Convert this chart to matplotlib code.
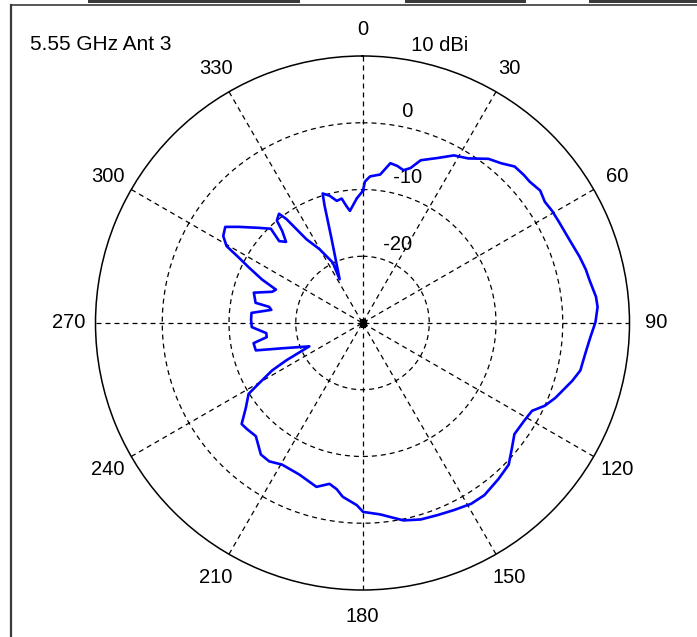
import numpy as np
import matplotlib
matplotlib.use("Agg")
import matplotlib.pyplot as plt
from matplotlib.lines import Line2D
from matplotlib.patches import Rectangle

plt.rcParams['font.family'] = ['Liberation Sans', 'DejaVu Sans']

# ---- data (angle in degrees, clockwise from north; gain in dBi) ----
theta_deg = [0.2, 1, 3, 6.8, 9.9, 12.5, 15, 17.2, 19.7, 24.6, 28.6, 32.7, 37.5, 41, 44.2,
             47.5, 49.8, 53.3, 56.4, 59.4, 62.8, 67.9, 73, 76.5, 79.2, 83.6, 86.1, 89.8,
             93.6, 97.7, 102.3, 105.4, 111.2, 114.4, 117.4, 121.3, 126.2, 130.3, 134.1,
             138.9, 144.7, 149, 153.9, 158.6, 163.5, 168.3, 174.7, 179.8, 181.8, 186.5,
             188.8, 191.6, 195.7, 202.6, 209.6, 214, 217.7, 223.3, 227.5, 230.1, 234,
             238.1, 239.7, 242.3, 243.9, 246.3, 252.5, 255.6, 259.5, 261.6, 264, 267.9,
             271.6, 275.2, 278.2, 279.8, 280.7, 285.6, 289.1, 291.1, 293.4, 296.1, 297.9,
             299.5, 302, 305, 307.8, 312.5, 315.8, 314.5, 316.7, 318.9, 320.1, 322.6,
             323.8, 326.2, 329.8, 333.8, 332.4, 339.8, 342.1, 342.9, 345.5, 348.1, 350.5,
             352.3, 353.6, 357.4, 360.2]
gain_dbi = [-10.2, -8.8, -8.0, -7.6, -5.7, -5.9, -6.3, -5.7, -4.1, -2.8, -1.4, -0.7, 1.0,
            1.7, 2.7, 2.8, 2.8, 3.2, 2.8, 3.0, 3.1, 3.4, 4.0, 4.4, 4.6, 5.2, 5.3, 4.9, 4.2,
            3.7, 3.4, 2.6, 1.0, 0.0, -1.4, -1.7, -1.8, -0.7, 0.5, 1.0, 1.6, 1.6, 1.2, 0.9,
            0.7, 0.2, -1.2, -1.7, -2.7, -3.8, -4.8, -5.4, -4.5, -5.4, -5.6, -5.0, -5.1,
            -6.7, -6.5, -6.4, -8.4, -9.9, -12.0, -14.7, -17.3, -21.3, -17.4, -13.5, -13.4,
            -15.5, -15.5, -13.4, -13.3, -13.3, -16.2, -15.8, -13.7, -13.1, -15.7, -16.1,
            -13.6, -11.0, -9.0, -6.6, -5.4, -4.9, -6.5, -8.9, -10.3, -12.5, -13.3, -11.7,
            -10.0, -9.4, -10.7, -14.9, -17.2, -19.9, -22.6, -16.6, -11.5, -9.7, -10.3,
            -11.3, -11.1, -12.4, -13.1, -11.3, -10.2]

ring_values = [-20, -10, 0, 10]
ring_labels = ['-20', '-10', '0', '10 dBi']
angle_ticks = [0, 30, 60, 90, 120, 150, 180, 210, 240, 270, 300, 330]
r_min, r_max = -30, 10
title_text = '5.55 GHz Ant 3'

# ---- figure ----
W, H = 697, 637
fig = plt.figure(figsize=(W / 100, H / 100), dpi=100)
fig.patch.set_facecolor('white')

cx, cy, R = 362.5, 323.0, 267.0
ax = fig.add_axes([(cx - R) / W, (H - cy - R) / H, 2 * R / W, 2 * R / H],
                  projection='polar')
ax.set_theta_zero_location('N')
ax.set_theta_direction(-1)
ax.set_ylim(r_min, r_max)
ax.grid(False)
ax.set_xticks([])
ax.set_yticks([])
ax.spines['polar'].set_color('black')
ax.spines['polar'].set_linewidth(1.1)
ax.patch.set_facecolor('white')

dash = (0, (4, 3.2))
tt = np.linspace(0, 2 * np.pi, 721)
for rv in ring_values[:-1]:
    ax.plot(tt, np.full_like(tt, rv), color='black', lw=0.9, ls=dash, zorder=1)
for a in angle_ticks:
    ax.plot([np.deg2rad(a), np.deg2rad(a)], [r_max, r_min], color='black', lw=0.9,
            ls=dash, zorder=1)
ax.plot([0], [r_min], marker='s', ms=4, color='black', zorder=2)

# angle labels
for a in angle_ticks:
    ax.text(np.deg2rad(a), r_min + 1.1 * (r_max - r_min), str(a), ha='center',
            va='center', fontsize=14.5, clip_on=False)

# ring labels
for rv, lbl in zip(ring_values, ring_labels):
    ax.text(np.deg2rad(8), rv + 0.5, '  ' + lbl, ha='left', va='bottom',
            fontsize=14.5, clip_on=False, zorder=3)

ax.plot(np.deg2rad(theta_deg), gain_dbi, color='#0000ff', lw=1.9, zorder=4,
        clip_on=False)

fig.text(30 / W, 1 - 44 / H, title_text, ha='left', va='center', fontsize=15)

# window frame remnants
frame_col = '#3a3a3a'
fig.add_artist(Line2D([11 / W, 11 / W], [0, 1 - 5 / H], transform=fig.transFigure,
                      color=frame_col, lw=1.6))
fig.add_artist(Line2D([11 / W, 1], [1 - 5 / H, 1 - 5 / H], transform=fig.transFigure,
                      color=frame_col, lw=1.2))
for x0, x1 in [(88, 300), (405, 526), (589, 697)]:
    fig.add_artist(Rectangle((x0 / W, 1 - 2.5 / H), (x1 - x0) / W, 2.5 / H,
                             transform=fig.transFigure, color=frame_col, lw=0))

fig.savefig('out.png', dpi=100, facecolor='white')
